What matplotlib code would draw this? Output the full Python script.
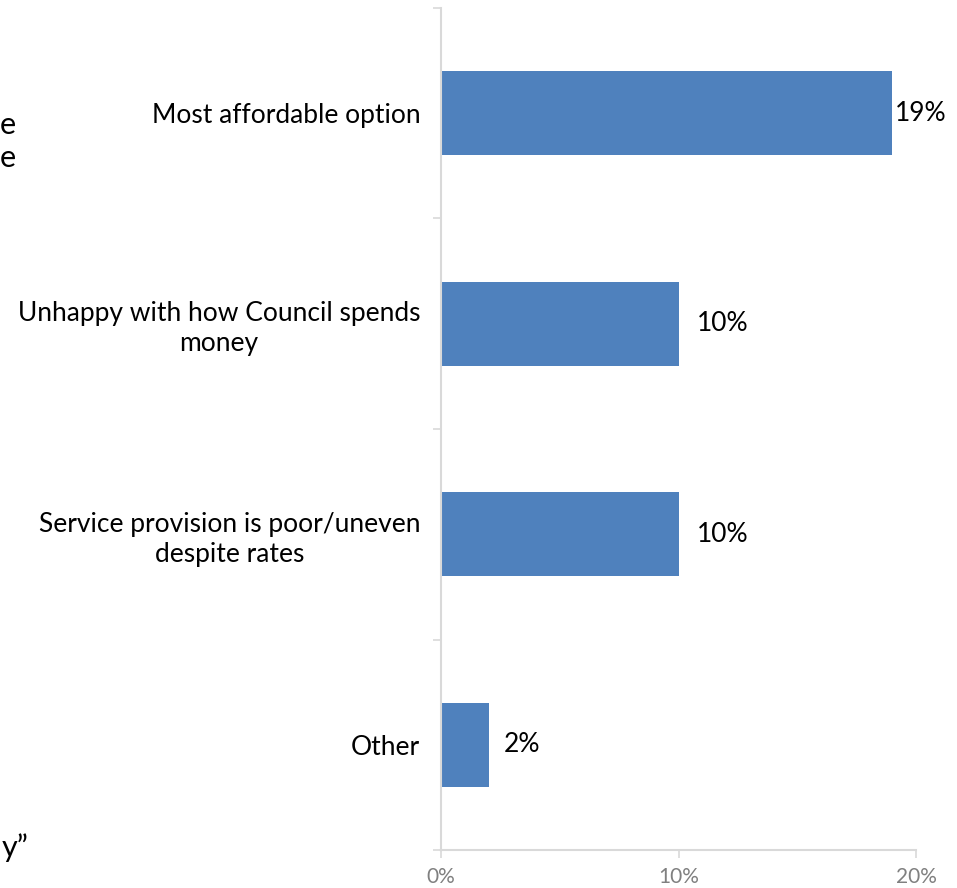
import numpy as np
import matplotlib.pyplot as plt
from matplotlib.ticker import FixedLocator

plt.rcParams['font.family'] = ['Lato', 'DejaVu Sans']

# Reasons for choosing the option, share of respondents (%)
categories = ["Most affordable option",
              "Unhappy with how Council spends\nmoney",
              "Service provision is poor/uneven\ndespite rates",
              "Other"]
values = [19, 10, 10, 2]
value_labels = ["19%", "10%", "10%", "2%"]
label_pads = [2, 13, 13, 11]
x_ticks = [0, 10, 20]
x_tick_labels = ["0%", "10%", "20%"]

bar_color = "#4f81bd"
axis_color = "#d9d9d9"

fig = plt.figure(figsize=(9.57, 8.88), dpi=100)
ax = fig.add_axes([441 / 957, 1 - 850 / 888, (916 - 441) / 957, (850 - 8) / 888])

y = np.arange(len(categories))
ax.barh(y, values, height=0.4, color=bar_color)

for yi, v, lab, pad in zip(y, values, value_labels, label_pads):
    ax.annotate(lab, xy=(v, yi), xytext=(pad, 0), textcoords="offset points",
                va="center", ha="left", fontsize=19, color="#000000")

ax.set_xlim(0, 20)
ax.set_ylim(len(categories) - 0.5, -0.5)

ax.set_yticks(y)
ax.set_yticklabels(categories, fontsize=19, color="#000000", multialignment="center",
                   linespacing=1.25)
ax.tick_params(axis="y", which="major", length=0, pad=15)
ax.yaxis.set_minor_locator(FixedLocator(np.arange(len(categories) + 1) - 0.5))
ax.tick_params(axis="y", which="minor", length=6, color=axis_color, width=1.2)

ax.set_xticks(x_ticks)
ax.set_xticklabels(x_tick_labels, fontsize=15, color="#808080")
ax.tick_params(axis="x", length=6, color=axis_color, width=1.2, pad=6)

for side in ["top", "right"]:
    ax.spines[side].set_visible(False)
for side in ["left", "bottom"]:
    ax.spines[side].set_color(axis_color)
    ax.spines[side].set_linewidth(1.5)

# Text spilling in from the neighbouring panel on the left
fig.text(0.017, 1 - 125 / 888, "e", fontsize=22, ha="right", va="center")
fig.text(0.017, 1 - 158 / 888, "e", fontsize=22, ha="right", va="center")
fig.text(0.002, 1 - 848 / 888, "y\u201d", fontsize=22, ha="left", va="center")

fig.savefig("out.png", dpi=100)
